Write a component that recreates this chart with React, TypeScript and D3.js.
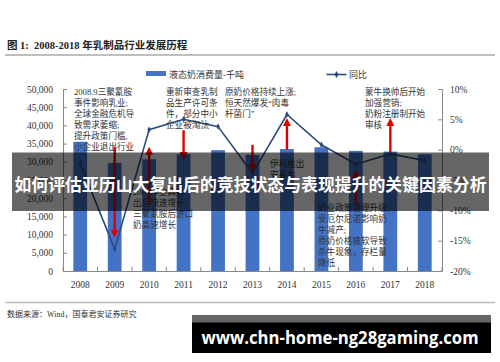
import React, { useEffect, useRef } from "react";
import * as d3 from "d3";

// chart data
const years = ["2008", "2009", "2010", "2011", "2012", "2013", "2014", "2015", "2016", "2017", "2018"];
const consumption = [35500, 29700, 30700, 32100, 33200, 31900, 33500, 34000, 33000, 32800, 32050];
const yoy = [-2.3, -16.4, 3.3, 5.0, 3.8, -3.9, 5.8, 0.8, -2.4, -0.7, -1.8];
const leftTicks = [0, 5000, 10000, 15000, 20000, 25000, 30000, 35000, 40000, 45000, 50000];
const rightTicks = [-20, -15, -10, -5, 0, 5, 10];

// event arrows, in % of the right axis
const arrowYears = ["2009", "2010", "2011", "2013", "2014", "2016", "2017"];
const arrowFrom = [0.5, -9.1, 3.2, 0.8, 0, -8.8, -0.5];
const arrowTo = [-14.5, 0.5, -1.7, -3.7, 5.2, -3.3, 5.2];

const note2008 = ["2008.9三聚氰胺", "事件影响乳业;", "全球金融危机导", "致需求萎缩;", "提升政策门槛,", "小企业退出行业"];
const note2011 = ["重新审查乳制", "品生产许可条", "件，部分中小", "企业被淘汰"];
const note2013 = ["原奶价格持续上涨;", "恒天然爆发“肉毒", "杆菌门”"];
const note2017 = ["蒙牛换帅后开始", "加强营销;", "奶粉注册制开始", "审核"];
const note2010 = ["2009年金典推", "出后快速增长;", "三聚氰胺后进口", "奶高速增长"];
const note2014 = ["伊利推出", "安慕希"];
const note2016 = ["奶业政策管理升级;", "受厄尔尼诺影响奶", "牛减产;", "原奶价格疲软导致", "杀牛现象，存栏量", "降低"];

const serif = "'Liberation Serif', 'Noto Sans CJK SC', serif";
const barColor = "#4472C4";
const lineColor = "#2B4A7E";
const textColor = "#333";

export default function App() {
  const svgRef = useRef<SVGSVGElement | null>(null);

  useEffect(() => {
    const width = 500;
    const height = 362;
    const plot = { left: 63, right: 442, top: 89, bottom: 271 };

    const svg = d3.select(svgRef.current);
    svg.selectAll("*").remove();

    svg.append("rect").attr("width", width).attr("height", height).attr("fill", "#fff");

    // scales
    const x = d3.scaleBand().domain(years).range([plot.left, plot.right]);
    const bw = x.bandwidth() * 0.4;
    const cx = (d: string) => (x(d) as number) + x.bandwidth() / 2;
    const yL = d3.scaleLinear().domain([0, 50000]).range([plot.bottom, plot.top]);
    const yR = d3.scaleLinear().domain([-20, 10]).range([plot.bottom, plot.top]);

    // title
    svg
      .append("text")
      .attr("x", 7)
      .attr("y", 49)
      .attr("font-family", serif)
      .attr("font-weight", "bold")
      .attr("font-size", 10.5)
      .attr("fill", "#222")
      .attr("xml:space", "preserve")
      .text("图 1:  2008-2018 年乳制品行业发展历程");
    svg
      .append("line")
      .attr("x1", 5)
      .attr("x2", 495)
      .attr("y1", 55)
      .attr("y2", 55)
      .attr("stroke", "#808080")
      .attr("stroke-width", 1.2);

    // legend
    svg.append("rect").attr("x", 146).attr("y", 71).attr("width", 20).attr("height", 5).attr("fill", barColor);
    svg
      .append("text")
      .attr("x", 169)
      .attr("y", 77.5)
      .attr("font-family", serif)
      .attr("font-size", 9)
      .attr("fill", textColor)
      .text("液态奶消费量-千吨");
    svg
      .append("line")
      .attr("x1", 326.5)
      .attr("x2", 346.5)
      .attr("y1", 74.5)
      .attr("y2", 74.5)
      .attr("stroke", lineColor)
      .attr("stroke-width", 1.6);
    svg
      .append("path")
      .attr("d", d3.symbol().type(d3.symbolDiamond).size(14)()!)
      .attr("transform", "translate(336.5,74.5)")
      .attr("fill", lineColor);
    svg
      .append("text")
      .attr("x", 349)
      .attr("y", 78)
      .attr("font-family", serif)
      .attr("font-size", 9)
      .attr("fill", textColor)
      .text("同比");

    // bars
    svg
      .append("g")
      .selectAll("rect")
      .data(years)
      .enter()
      .append("rect")
      .attr("x", (d) => cx(d) - bw / 2)
      .attr("y", (d, i) => yL(consumption[i]))
      .attr("width", bw)
      .attr("height", (d, i) => plot.bottom - yL(consumption[i]))
      .attr("fill", barColor);

    // axes
    const styleAxis = (g: any) => {
      g.select(".domain").attr("stroke", "#888");
      g.selectAll(".tick line").attr("stroke", "#888");
      g.selectAll("text").attr("font-family", serif).attr("font-size", 9.5).attr("fill", textColor);
    };

    svg
      .append("g")
      .attr("transform", `translate(${plot.left},0)`)
      .call(d3.axisLeft(yL).tickValues(leftTicks).tickSize(-4).tickPadding(10).tickFormat(d3.format(",") as any))
      .call(styleAxis);

    svg
      .append("g")
      .attr("transform", `translate(${plot.right},0)`)
      .call(d3.axisRight(yR).tickValues(rightTicks).tickSize(-4).tickPadding(8).tickFormat((d: any) => `${d}%`))
      .call(styleAxis);

    svg
      .append("g")
      .attr("transform", `translate(0,${plot.bottom})`)
      .call(d3.axisBottom(x).tickSize(0).tickPadding(10))
      .call(styleAxis);
    const bounds = years.map((d) => x(d) as number).concat([plot.right]);
    svg
      .append("g")
      .selectAll("line")
      .data(bounds)
      .enter()
      .append("line")
      .attr("x1", (d) => d)
      .attr("x2", (d) => d)
      .attr("y1", plot.bottom)
      .attr("y2", plot.bottom - 4)
      .attr("stroke", "#888");

    // yoy line
    const line = d3
      .line<number>()
      .x((d, i) => cx(years[i]))
      .y((d) => yR(d));
    svg
      .append("path")
      .datum(yoy)
      .attr("d", line)
      .attr("fill", "none")
      .attr("stroke", lineColor)
      .attr("stroke-width", 1.6);
    svg
      .append("g")
      .selectAll("path")
      .data(yoy)
      .enter()
      .append("path")
      .attr("d", d3.symbol().type(d3.symbolDiamond).size(12)()!)
      .attr("transform", (d, i) => `translate(${cx(years[i])},${yR(d)})`)
      .attr("fill", lineColor);

    // red arrows
    const arrows = svg.append("g");
    arrowYears.forEach((yr, i) => {
      const ax = cx(yr);
      const y0 = yR(arrowFrom[i]);
      const y1 = yR(arrowTo[i]);
      const dir = y1 > y0 ? 1 : -1;
      const head = 8;
      arrows
        .append("line")
        .attr("x1", ax)
        .attr("x2", ax)
        .attr("y1", y0)
        .attr("y2", y1 - dir * head)
        .attr("stroke", "#e00000")
        .attr("stroke-width", 2.4);
      arrows
        .append("path")
        .attr("d", `M${ax},${y1} L${ax - 4},${y1 - dir * head} L${ax + 4},${y1 - dir * head} Z`)
        .attr("fill", "#e00000");
    });

    // annotations
    const note = (lines: string[], nx: number, ny: number) => {
      const t = svg
        .append("text")
        .attr("font-family", serif)
        .attr("font-size", 8.6)
        .attr("fill", textColor);
      lines.forEach((s, i) => {
        t.append("tspan").attr("x", nx).attr("y", ny + i * 11).text(s);
      });
    };
    note(note2008, 74, 95);
    note(note2011, 166, 94.5);
    note(note2013, 225, 94.5);
    note(note2017, 365, 94.5);
    note(note2010, 133, 195);
    note(note2014, 270, 166.5);
    note(note2016, 318, 210.5);

    // overlay banner
    svg
      .append("rect")
      .attr("x", 12)
      .attr("y", 152.5)
      .attr("width", 477)
      .attr("height", 58.5)
      .attr("fill", "#000")
      .attr("fill-opacity", 0.6);
    svg
      .append("text")
      .attr("x", 250.5)
      .attr("y", 190.5)
      .attr("text-anchor", "middle")
      .attr("font-family", "'Noto Sans CJK SC', sans-serif")
      .attr("font-weight", "bold")
      .attr("font-size", 17.4)
      .attr("fill", "#fff")
      .attr("textLength", 472)
      .attr("lengthAdjust", "spacingAndGlyphs")
      .text("如何评估亚历山大复出后的竞技状态与表现提升的关键因素分析");

    // footer
    svg
      .append("line")
      .attr("x1", 5)
      .attr("x2", 495)
      .attr("y1", 302.5)
      .attr("y2", 302.5)
      .attr("stroke", "#bbb")
      .attr("stroke-width", 1.5);
    svg
      .append("text")
      .attr("x", 7)
      .attr("y", 317)
      .attr("font-family", serif)
      .attr("font-size", 8)
      .attr("fill", textColor)
      .text("数据来源：Wind，国泰君安证券研究");

    svg.append("rect").attr("x", 192).attr("y", 315).attr("width", 299).attr("height", 38).attr("fill", "#000");
    svg.append("rect").attr("x", 192).attr("y", 315).attr("width", 299).attr("height", 7.5).attr("fill", "#666");
    svg
      .append("text")
      .attr("x", 201.5)
      .attr("y", 343.5)
      .attr("font-family", "'Open Sans', 'DejaVu Sans', sans-serif")
      .attr("font-weight", "bold")
      .attr("font-size", 18.5)
      .attr("fill", "#fff")
      .attr("textLength", 277)
      .attr("lengthAdjust", "spacingAndGlyphs")
      .text("www.chn-home-ng28gaming.com");
  }, []);

  return (
    <svg
      ref={svgRef}
      width={500}
      height={362}
      style={{ position: "absolute", left: 0, top: 0, display: "block" }}
    />
  );
}
